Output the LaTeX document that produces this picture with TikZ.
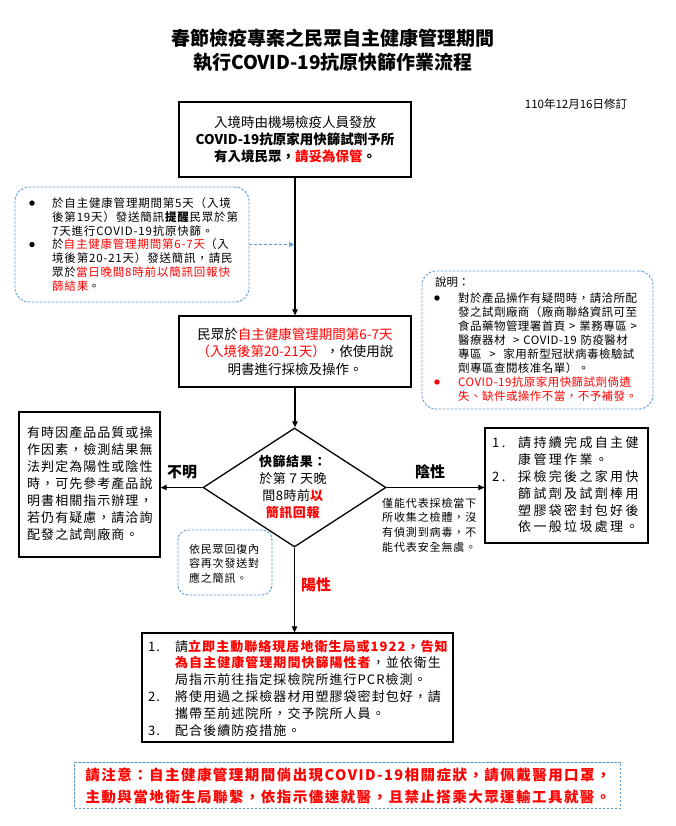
\documentclass[tikz,border=0pt]{standalone}
\usepackage{fontspec}
\setmainfont{Noto Sans CJK TC}
\usetikzlibrary{arrows.meta,shapes.geometric}
\definecolor{myred}{HTML}{FF0000}
\definecolor{dblue}{HTML}{5B9BD5}
\newcommand\lsp[1]{\addfontfeatures{LetterSpace=#1}}
\newcommand\rd[1]{\textcolor{myred}{#1}}
\tikzset{
  box/.style={draw=black, line width=1.3pt, inner sep=0pt},
  dbox/.style={draw=dblue, dashed, dash pattern=on 2.5pt off 1.5pt, line width=0.9pt, rounded corners=14pt, inner sep=0pt},
  arr/.style={-{Triangle[length=6pt,width=5.5pt]}, line width=1.2pt},
  darr/.style={-{Triangle[length=5pt,width=5pt]}, draw=dblue, dash pattern=on 3pt off 2pt, line width=1pt},
  txt/.style={inner sep=0pt, align=left},
  ctxt/.style={inner sep=0pt, align=center},
  lbl/.style={inner sep=0pt, font=\fontsize{15}{18}\selectfont\bfseries},
}
\begin{document}
\begin{tikzpicture}[x=1pt,y=-1pt]
\useasboundingbox (0,0) rectangle (675,826);
\fill[white] (0,0) rectangle (675,826);

% title
\node[ctxt, font=\fontsize{19}{24}\selectfont\bfseries] (title) at (333,50)
  {春節檢疫專案之民眾自主健康管理期間\\執行COVID-19抗原快篩作業流程};
\node[ctxt, font=\fontsize{11.5}{13}\selectfont] (date) at (576,104) {110年12月16日修訂};

% top box
\node[box, minimum width=232pt, minimum height=75pt] (top) at (295,139.5) {};
\node[ctxt, font=\fontsize{13.5}{17}\selectfont] (toptxt) at (295,139.5)
  {入境時由機場檢疫人員發放\\
   \textbf{COVID-19抗原家用快篩試劑予所}\\
   \textbf{有入境民眾，\rd{請妥為保管}。}};

% left dashed box
\node[dbox, minimum width=234pt, minimum height=115pt] (ldb) at (132,244.5) {};
\fill (32,203.1) circle (2.7);
\fill (32,244.5) circle (2.7);
\node[txt, anchor=west, text width=190pt, font=\fontsize{11.5}{13.8}\selectfont\lsp{7}] (ldbtxt) at (52,244.5)
  {於自主健康管理期間第5天（入境\\
   後第19天）發送簡訊\textbf{提醒}民眾於第\\
   7天進行COVID-19抗原快篩。\\
   於\rd{自主健康管理期間第6-7天}（入\\
   境後第20-21天）發送簡訊，請民\\
   眾於\rd{當日晚間8時前以簡訊回報快}\\
   \rd{篩結果}。};
\coordinate (lhit) at (294,244.5);
\draw[darr] (ldb.east) -- (lhit);

% right dashed box
\node[dbox, minimum width=231pt, minimum height=138pt] (rdb) at (537.5,340) {};
\node[txt, anchor=west, font=\fontsize{11.5}{14}\selectfont] (rdbhead) at (435,282) {說明：};
\fill (437,298) circle (2.7);
\fill[myred] (437,382) circle (2.7);
\node[txt, anchor=west, text width=190pt, font=\fontsize{11.5}{14}\selectfont\lsp{4}] (rdbtxt) at (458,347)
  {對於產品操作有疑問時，請洽所配\\
   發之試劑廠商（廠商聯絡資訊可至\\
   食品藥物管理署首頁 > 業務專區 >\\
   醫療器材 \ > COVID-19 防疫醫材\\
   專區 \ > \ 家用新型冠狀病毒檢驗試\\
   劑專區查閱核准名單）。\\
   \rd{COVID-19抗原家用快篩試劑倘遺}\\
   \rd{失、缺件或操作不當，不予補發。}};

% middle box
\node[box, minimum width=232pt, minimum height=71pt] (mid) at (295,351.5) {};
\node[ctxt, font=\fontsize{13.5}{17.5}\selectfont] (midtxt) at (295,351.5)
  {民眾於\rd{自主健康管理期間第6-7天}\\
   \rd{（入境後第20-21天）}，依使用說\\
   明書進行採檢及操作。};
\draw[arr] (top.south) -- (mid.north);

% diamond
\node[draw=black, line width=1.3pt, shape=diamond, minimum width=183pt, minimum height=119pt, inner sep=0pt] (dia) at (294.5,487.5) {};
\node[ctxt, font=\fontsize{13}{17}\selectfont\lsp{4}] (diatxt) at (293,487)
  {\textbf{快篩結果：}\\
   於第７天晚\\
   間8時前\rd{\textbf{以}}\\
   \rd{\textbf{簡訊回報}}};
\draw[arr] (mid.south) -- (mid.south |- dia.north);

% left box
\node[box, minimum width=141pt, minimum height=145pt] (lbox) at (89.5,484.5) {};
\node[txt, anchor=west, text width=135pt, font=\fontsize{13}{17}\selectfont\lsp{8}] (lboxtxt) at (27,484)
  {有時因產品品質或操\\
   作因素，檢測結果無\\
   法判定為陽性或陰性\\
   時，可先參考產品說\\
   明書相關指示辦理，\\
   若仍有疑慮，請洽詢\\
   配發之試劑廠商。};
\draw[arr] (dia.west) -- (dia.west -| lbox.east);
\node[lbl] (unk) at (182,472) {不明};

% right box
\node[box, minimum width=163pt, minimum height=115pt] (rbox) at (566.5,485.5) {};
\node[txt, anchor=west, text width=160pt, font=\fontsize{13}{16.8}\selectfont\lsp{18}] (rboxtxt) at (492,485)
  {\makebox[26pt][l]{1.}請持續完成自主健\\
   \hspace*{26pt}康管理作業。\\
   \makebox[26pt][l]{2.}採檢完後之家用快\\
   \hspace*{26pt}篩試劑及試劑棒用\\
   \hspace*{26pt}塑膠袋密封包好後\\
   \hspace*{26pt}依一般垃圾處理。};
\draw[arr] (dia.east) -- (dia.east -| rbox.west);
\node[lbl] (neg) at (430,472) {陰性};
\node[txt, anchor=west, text width=100pt, font=\fontsize{11}{14.7}\selectfont\lsp{8}] (negtxt) at (382,525)
  {僅能代表採檢當下\\
   所收集之檢體，沒\\
   有偵測到病毒，不\\
   能代表安全無虞。};

% small dashed box
\node[dbox, rounded corners=10pt, minimum width=94pt, minimum height=65pt] (sdb) at (225,562.5) {};
\node[txt, anchor=west, text width=85pt, font=\fontsize{11}{14.5}\selectfont\lsp{7}] (sdbtxt) at (189,563.5)
  {依民眾回復內\\
   容再次發送對\\
   應之簡訊。};

% bottom box
\node[box, minimum width=311pt, minimum height=109pt] (bbox) at (297.5,687.5) {};
\draw[arr] (dia.south) -- (dia.south |- bbox.north);
\node[lbl, text=myred] (pos) at (316,585) {陽性};
\node[txt, anchor=west, text width=305pt, font=\fontsize{13}{16.8}\selectfont\lsp{8}] (bboxtxt) at (148,688)
  {\makebox[27pt][l]{1.}請\rd{\textbf{立即主動聯絡現居地衛生局或1922，告知}}\\
   \hspace*{27pt}\rd{\textbf{為自主健康管理期間快篩陽性者}}，並依衛生\\
   \hspace*{27pt}局指示前往指定採檢院所進行PCR檢測。\\
   \makebox[27pt][l]{2.}將使用過之採檢器材用塑膠袋密封包好，請\\
   \hspace*{27pt}攜帶至前述院所，交予院所人員。\\
   \makebox[27pt][l]{3.}配合後續防疫措施。};

% notice box
\node[draw=dblue, dash pattern=on 2.5pt off 1.5pt, line width=0.9pt, minimum width=546pt, minimum height=46pt, inner sep=0pt] (note) at (347.5,785) {};
\node[ctxt, text=myred, font=\fontsize{14.5}{21.5}\selectfont\bfseries\lsp{10}] (notetxt) at (348,786)
  {請注意：自主健康管理期間倘出現COVID-19相關症狀，請佩戴醫用口罩，\\
   主動與當地衛生局聯繫，依指示儘速就醫，且禁止搭乘大眾運輸工具就醫。};
\end{tikzpicture}
\end{document}
